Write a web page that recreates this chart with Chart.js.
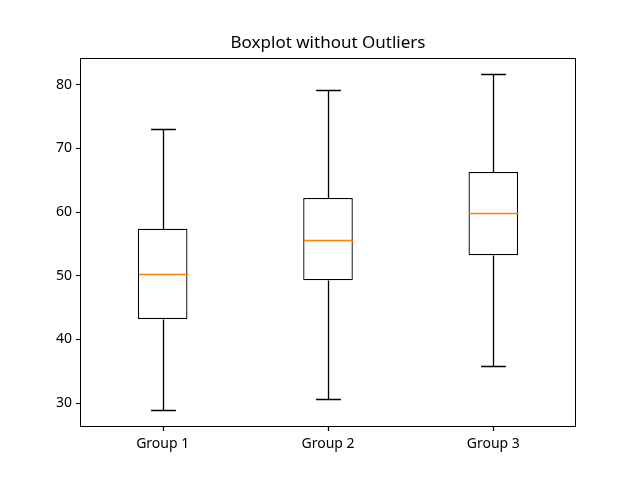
<!DOCTYPE html>
<html>
<head>
<meta charset="utf-8">
<script src="https://cdn.jsdelivr.net/npm/chart.js@4"></script>
<style>
    html, body { margin: 0; padding: 0; background: #fff; }
</style>
</head>
<body>
<canvas id="boxChart" width="640" height="480"></canvas>
<script>
// Boxplot stats
const groups = ['Group 1', 'Group 2', 'Group 3'];
const mins = [28.9, 30.6, 35.8];
const q1s = [43.2, 49.3, 53.2];
const medians = [50.3, 55.6, 59.8];
const q3s = [57.4, 62.2, 66.3];
const maxs = [73.0, 79.1, 81.7];
const yTicks = [30, 40, 50, 60, 70, 80];
const titleText = 'Boxplot without Outliers';

// snap to pixel centre so thin lines stay crisp
const px = (v) => Math.round(v) + 0.5;

// Whiskers, caps, medians, frame, x ticks and a title centred on the plot area
const boxExtras = {
    id: 'boxExtras',
    afterDraw(chart) {
        const ctx = chart.ctx;
        const x = chart.scales.x;
        const y = chart.scales.y;
        const a = chart.chartArea;
        const meta = chart.getDatasetMeta(0);
        ctx.save();
        groups.forEach((g, i) => {
            const bar = meta.data[i];
            const cx = px(x.getPixelForValue(i));
            const half = bar.width / 2;
            const capHalf = half / 2;
            ctx.lineWidth = 1.3;
            ctx.strokeStyle = '#000';
            ctx.beginPath();
            // lower whisker + cap
            ctx.moveTo(cx, px(y.getPixelForValue(q1s[i])));
            ctx.lineTo(cx, px(y.getPixelForValue(mins[i])));
            ctx.moveTo(cx - capHalf, px(y.getPixelForValue(mins[i])));
            ctx.lineTo(cx + capHalf, px(y.getPixelForValue(mins[i])));
            // upper whisker + cap
            ctx.moveTo(cx, px(y.getPixelForValue(q3s[i])));
            ctx.lineTo(cx, px(y.getPixelForValue(maxs[i])));
            ctx.moveTo(cx - capHalf, px(y.getPixelForValue(maxs[i])));
            ctx.lineTo(cx + capHalf, px(y.getPixelForValue(maxs[i])));
            // x tick mark under the group
            ctx.moveTo(cx, a.bottom);
            ctx.lineTo(cx, a.bottom + 5);
            ctx.stroke();
            // median
            ctx.strokeStyle = '#ff7f0e';
            ctx.beginPath();
            ctx.moveTo(cx - half, px(y.getPixelForValue(medians[i])));
            ctx.lineTo(cx + half, px(y.getPixelForValue(medians[i])));
            ctx.stroke();
        });
        ctx.strokeStyle = '#000';
        ctx.lineWidth = 1;
        ctx.strokeRect(px(a.left), px(a.top), Math.round(a.right - a.left) - 1, Math.round(a.bottom - a.top));

        ctx.fillStyle = '#000';
        ctx.font = '17px "Noto Sans"';
        ctx.textAlign = 'center';
        ctx.textBaseline = 'middle';
        ctx.fillText(titleText, (a.left + a.right) / 2, a.top - 15);
        ctx.restore();
    }
};

new Chart(document.getElementById('boxChart'), {
    type: 'bar',
    data: {
        labels: groups,
        datasets: [{
            data: groups.map((_, i) => [q1s[i], q3s[i]]),
            backgroundColor: '#ffffff',
            borderColor: '#000000',
            borderWidth: 1.3,
            borderSkipped: false,
            barPercentage: 0.3,
            categoryPercentage: 1.0
        }]
    },
    options: {
        responsive: false,
        animation: false,
        devicePixelRatio: 1,
        layout: {
            padding: { top: 58, right: 64, bottom: 0, left: 0 }
        },
        plugins: {
            legend: { display: false },
            tooltip: { enabled: false },
            title: { display: false }
        },
        scales: {
            x: {
                offset: true,
                grid: { display: false },
                border: { display: false },
                ticks: {
                    color: '#000',
                    padding: 2,
                    font: { family: 'Noto Sans', size: 14 }
                },
                afterFit: (scale) => { scale.height = 54; }
            },
            y: {
                min: 26.4,
                max: 84.2,
                afterBuildTicks: (scale) => {
                    scale.ticks = yTicks.map(v => ({ value: v }));
                },
                grid: {
                    display: true,
                    drawOnChartArea: false,
                    drawTicks: true,
                    tickLength: 4,
                    tickColor: '#000'
                },
                border: { display: false },
                ticks: {
                    color: '#000',
                    padding: 4,
                    font: { family: 'Noto Sans', size: 14 }
                },
                afterFit: (scale) => { scale.width = 80; }
            }
        }
    },
    plugins: [boxExtras]
});
</script>
</body>
</html>
